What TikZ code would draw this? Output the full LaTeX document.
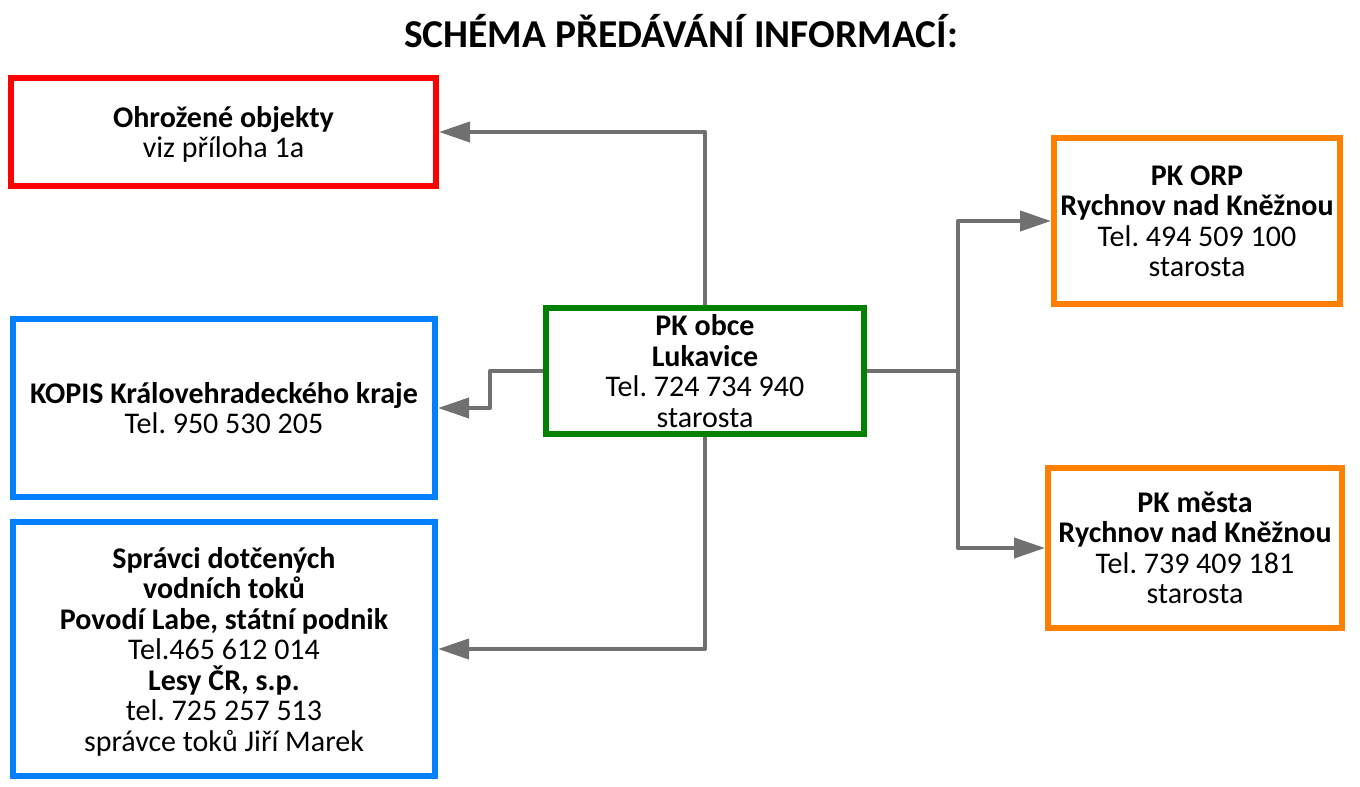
\documentclass[tikz,border=0pt]{standalone}
\usepackage{fontspec}
\setmainfont{Carlito}
\usetikzlibrary{arrows.meta}
\frenchspacing
\definecolor{cred}{HTML}{FF0000}
\definecolor{cblue}{HTML}{0080FF}
\definecolor{cgreen}{HTML}{008000}
\definecolor{corange}{HTML}{FF8000}
\definecolor{cgrey}{HTML}{707070}
\tikzset{
  box/.style={draw=#1, line width=6pt, fill=white, inner sep=0pt, align=center,
    text depth=-1.5pt, font=\fontsize{30}{30.5}\selectfont},
  conn/.style={draw=cgrey, line width=4pt, line join=round,
    -{Triangle[length=31pt,width=20pt]}},
}
\begin{document}
\begin{tikzpicture}[x=1pt,y=-1pt]
\useasboundingbox (0,0) rectangle (1360,787);
\fill[white] (0,0) rectangle (1360,787);
\node[anchor=base, font=\fontsize{39.5}{44}\selectfont\bfseries] (title) at (681,47) {SCHÉMA PŘEDÁVÁNÍ INFORMACÍ:};
\node[box=cred, minimum width=425pt, minimum height=108pt] (red) at (223.5,132) {\textbf{Ohrožené objekty}\\viz příloha 1a};
\node[box=cblue, minimum width=422pt, minimum height=178pt] (kopis) at (224,408) {\textbf{KOPIS Královehradeckého kraje}\\Tel. 950 530 205};
\node[box=cblue, minimum width=422pt, minimum height=254pt] (spravci) at (224,649) {\textbf{Správci dotčených}\\\textbf{vodních toků}\\\textbf{Povodí Labe, státní podnik}\\Tel.465 612 014\\\textbf{Lesy ČR, s.p.}\\tel. 725 257 513\\správce toků Jiří Marek};
\node[box=cgreen, minimum width=318pt, minimum height=126pt] (green) at (705,371) {\textbf{PK obce}\\\textbf{Lukavice}\\Tel. 724 734 940\\starosta};
\node[box=corange, minimum width=286pt, minimum height=166pt] (orp) at (1197,221) {\textbf{PK ORP}\\\textbf{Rychnov nad Kněžnou}\\Tel. 494 509 100\\starosta};
\node[box=corange, minimum width=294pt, minimum height=160pt] (mesta) at (1195,548) {\textbf{PK města}\\\textbf{Rychnov nad Kněžnou}\\Tel. 739 409 181\\starosta};
\coordinate (k1) at (490,371);
\coordinate (j) at (958,371);
\draw[conn] (green.north) |- (red.east);
\draw[conn] (green.west) -- (k1) |- (kopis.east);
\draw[conn] (green.south) |- (spravci.east);
\draw[conn] (green.east) -- (j) |- (orp.west);
\draw[conn] (j) |- (mesta.west);
\end{tikzpicture}
\end{document}
